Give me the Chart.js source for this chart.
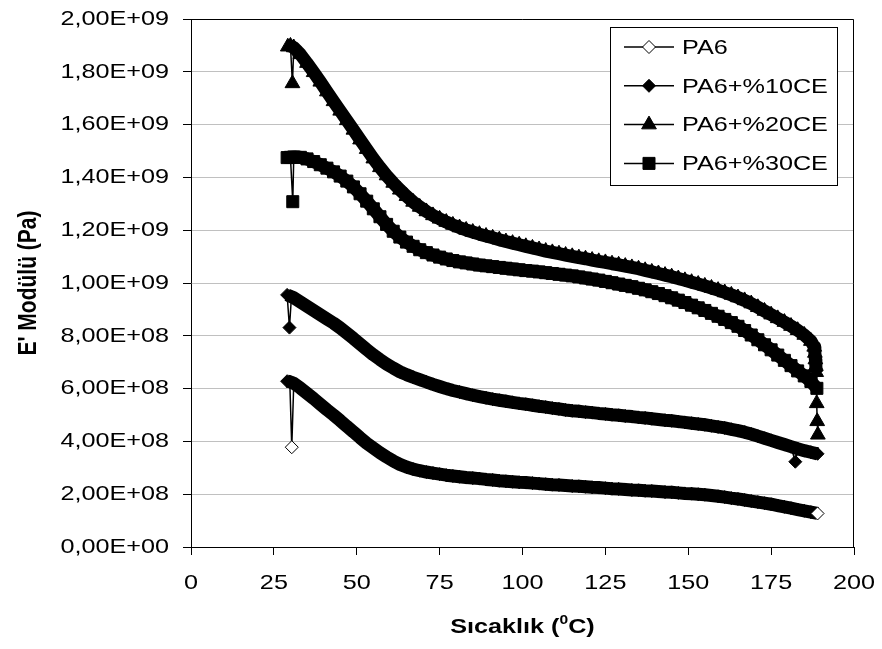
<!DOCTYPE html>
<html>
<head>
<meta charset="utf-8">
<script src="https://cdn.jsdelivr.net/npm/chart.js@4.4.1/dist/chart.umd.min.js"></script>
<style>
  html, body { margin: 0; padding: 0; background: #ffffff; }
  #wrap { width: 882px; height: 649px; }
</style>
</head>
<body>
<div id="wrap"><canvas id="c" width="882" height="649"></canvas></div>
<script>
// Storage modulus E' (in 10^8 Pa) against temperature (°C), DMA sweep.
const temps = [
  31, 33, 35, 37, 39, 41, 43, 45, 47, 49,
  51, 53, 55, 57, 59, 61, 63, 65, 67, 69,
  71, 73, 75, 77, 79, 81, 83, 85, 87, 89,
  91, 93, 95, 97, 99, 101, 103, 105, 107, 109,
  111, 113, 115, 117, 119, 121, 123, 125, 127, 129,
  131, 133, 135, 137, 139, 141, 143, 145, 147, 149,
  151, 153, 155, 157, 159, 161, 163, 165, 167, 169,
  171, 173, 175, 177, 179, 181, 183, 185, 187
];

const seriesNames = ['PA6', 'PA6+%10CE', 'PA6+%20CE', 'PA6+%30CE'];

const pa6 = [
  6.20, 6.02, 5.82, 5.62, 5.41, 5.20, 5.00, 4.79, 4.57, 4.36,
  4.14, 3.93, 3.75, 3.57, 3.41, 3.26, 3.13, 3.03, 2.95, 2.89,
  2.84, 2.80, 2.76, 2.72, 2.69, 2.66, 2.63, 2.61, 2.59, 2.56,
  2.54, 2.51, 2.49, 2.47, 2.45, 2.44, 2.42, 2.40, 2.38, 2.36,
  2.35, 2.33, 2.31, 2.30, 2.28, 2.26, 2.25, 2.23, 2.21, 2.20,
  2.18, 2.16, 2.15, 2.13, 2.12, 2.10, 2.08, 2.07, 2.05, 2.03,
  2.02, 2.00, 1.98, 1.95, 1.92, 1.89, 1.85, 1.82, 1.78, 1.74,
  1.70, 1.66, 1.62, 1.57, 1.52, 1.47, 1.42, 1.37, 1.32
];
const ce10 = [
  9.44, 9.28, 9.12, 8.96, 8.80, 8.64, 8.48, 8.30, 8.10, 7.90,
  7.69, 7.48, 7.28, 7.10, 6.93, 6.78, 6.64, 6.53, 6.43, 6.34,
  6.25, 6.16, 6.08, 6.00, 5.93, 5.87, 5.81, 5.75, 5.70, 5.65,
  5.60, 5.56, 5.52, 5.48, 5.44, 5.41, 5.37, 5.33, 5.30, 5.26,
  5.23, 5.19, 5.16, 5.14, 5.11, 5.09, 5.06, 5.04, 5.01, 4.99,
  4.96, 4.94, 4.91, 4.89, 4.86, 4.83, 4.80, 4.78, 4.75, 4.72,
  4.69, 4.66, 4.63, 4.59, 4.55, 4.51, 4.46, 4.41, 4.35, 4.28,
  4.20, 4.12, 4.04, 3.96, 3.88, 3.80, 3.72, 3.65, 3.59
];
const ce20 = [
  18.92, 18.66, 18.33, 17.98, 17.62, 17.25, 16.88, 16.52, 16.16, 15.80,
  15.43, 15.07, 14.71, 14.38, 14.07, 13.79, 13.53, 13.29, 13.07, 12.88,
  12.71, 12.56, 12.43, 12.31, 12.20, 12.10, 12.01, 11.93, 11.85, 11.78,
  11.71, 11.64, 11.57, 11.51, 11.45, 11.39, 11.33, 11.27, 11.21, 11.16,
  11.11, 11.06, 11.01, 10.96, 10.92, 10.87, 10.82, 10.78, 10.73, 10.69,
  10.64, 10.59, 10.54, 10.48, 10.42, 10.36, 10.30, 10.24, 10.17, 10.10,
  10.03, 9.96, 9.89, 9.81, 9.73, 9.64, 9.55, 9.45, 9.34, 9.22,
  9.08, 8.94, 8.80, 8.66, 8.52, 8.37, 8.21, 8.03, 7.80
];
const ce30 = [
  14.77, 14.76, 14.70, 14.60, 14.48, 14.35, 14.21, 14.05, 13.86, 13.64,
  13.38, 13.10, 12.81, 12.51, 12.22, 11.96, 11.74, 11.55, 11.39, 11.26,
  11.15, 11.06, 10.98, 10.91, 10.85, 10.80, 10.76, 10.72, 10.68, 10.65,
  10.62, 10.59, 10.56, 10.53, 10.50, 10.47, 10.45, 10.42, 10.39, 10.36,
  10.33, 10.30, 10.27, 10.23, 10.19, 10.15, 10.11, 10.06, 10.01, 9.96,
  9.91, 9.86, 9.80, 9.74, 9.67, 9.60, 9.52, 9.44, 9.35, 9.26,
  9.16, 9.06, 8.96, 8.85, 8.74, 8.62, 8.50, 8.36, 8.20, 8.03,
  7.85, 7.66, 7.47, 7.27, 7.07, 6.87, 6.67, 6.48, 6.27
];

// First readings, last readings and isolated off-trend readings: [°C, 10^8 Pa]
const pa6Head  = [[29.0, 6.28], [29.8, 6.26]];
const pa6Tail  = [[189.0, 1.27]];
const pa6Drop  = [[30.4, 3.78]];
const ce10Head = [[29.0, 9.55], [30.3, 9.48]];
const ce10Tail = [[189.0, 3.53]];
const ce10Drop = [[29.7, 8.31], [182.3, 3.23]];
const ce20Head = [[29.2, 18.95], [30.0, 18.98]];
const ce20Tail = [[188.0, 7.58], [188.2, 7.35], [188.35, 7.10], [188.5, 6.85], [188.6, 6.62]];
const ce20Drop = [[30.6, 17.56], [188.75, 5.44], [188.9, 4.76], [189.1, 4.25]];
const ce30Head = [[29.0, 14.75], [30.0, 14.76]];
const ce30Tail = [[188.8, 6.01]];
const ce30Drop = [[30.7, 13.08]];

const xTickValues = [0, 25, 50, 75, 100, 125, 150, 175, 200];
const yTickValues = [0, 2e8, 4e8, 6e8, 8e8, 1e9, 1.2e9, 1.4e9, 1.6e9, 1.8e9, 2e9];

const xTitle = ['Sıcaklık (', '0', 'C)'];
const yTitle = "E' Modülü (Pa)";

const UNIT = 1e8;
const FONT = "'Liberation Sans', Arial, sans-serif";
const SX = 1.2;   // horizontal text stretch

function toPoints(pairs) {
  return pairs.map(([t, e]) => ({ x: t, y: e * UNIT })).sort((a, b) => a.x - b.x);
}
function gridPairs(vals) { return temps.map((t, i) => [t, vals[i]]); }

const series = [
  { name: seriesNames[0], vals: pa6,  head: pa6Head,  tail: pa6Tail,  drop: pa6Drop,  style: 'rectRot',  radius: 6.5, open: true },
  { name: seriesNames[1], vals: ce10, head: ce10Head, tail: ce10Tail, drop: ce10Drop, style: 'rectRot',  radius: 6.5, open: false },
  { name: seriesNames[2], vals: ce20, head: ce20Head, tail: ce20Tail, drop: ce20Drop, style: 'triangle', radius: 8.5, open: false },
  { name: seriesNames[3], vals: ce30, head: ce30Head, tail: ce30Tail, drop: ce30Drop, style: 'rect',     radius: 8.5, open: false }
];

function sciLabel(v) {
  if (v === 0) return '0,00E+00';
  const exp = Math.floor(Math.log10(Math.abs(v)) + 1e-9);
  const mant = (v / Math.pow(10, exp)).toFixed(2).replace('.', ',');
  return mant + 'E' + (exp < 0 ? '-' : '+') + String(Math.abs(exp)).padStart(2, '0');
}

const datasets = [];
series.forEach((s) => {
  const bandPts = toPoints([...s.head, ...gridPairs(s.vals), ...s.tail]);
  const allPts = toPoints([...s.head, ...gridPairs(s.vals), ...s.tail, ...s.drop]);
  const dropX = new Set(s.drop.map(d => d[0]));
  // dense run of readings rendered as a solid trace
  datasets.push({
    label: s.name + ' trace',
    data: bandPts,
    borderColor: '#000',
    borderWidth: 13,
    borderJoinStyle: 'round',
    pointRadius: 0,
    tension: 0,
    order: 2
  });
  // every reading with its marker
  datasets.push({
    label: s.name,
    data: allPts,
    borderColor: '#000',
    borderWidth: 1.5,
    tension: 0,
    pointStyle: s.style,
    pointRadius: s.radius,
    pointBorderColor: '#000',
    pointBorderWidth: 1,
    pointBackgroundColor: s.open
      ? (ctx) => {
          const last = ctx.dataset.data.length - 1;
          return (ctx.dataIndex === last || (ctx.raw && dropX.has(ctx.raw.x))) ? '#ffffff' : '#000000';
        }
      : '#000000',
    order: 1
  });
});

function stretchedText(ctx, str, x, y, align, baseline) {
  ctx.save();
  ctx.translate(x, y);
  ctx.scale(SX, 1);
  ctx.textAlign = align;
  ctx.textBaseline = baseline;
  ctx.fillText(str, 0, 0);
  ctx.restore();
}

function markerPath(ctx, style, r, x, y) {
  ctx.beginPath();
  if (style === 'rectRot') {
    ctx.moveTo(x, y - r); ctx.lineTo(x + r, y); ctx.lineTo(x, y + r); ctx.lineTo(x - r, y);
  } else if (style === 'triangle') {
    const c = Math.cos(Math.PI / 6) * r;
    ctx.moveTo(x, y - r); ctx.lineTo(x + c, y + r / 2); ctx.lineTo(x - c, y + r / 2);
  } else {
    const h = Math.SQRT1_2 * r;
    ctx.rect(x - h, y - h, 2 * h, 2 * h);
  }
  ctx.closePath();
}

const framePlugin = {
  id: 'frame',
  beforeDatasetsDraw(chart) {
    const { ctx, chartArea: a } = chart;
    ctx.save();
    ctx.strokeStyle = '#000';
    ctx.lineWidth = 1;
    ctx.beginPath();
    ctx.moveTo(a.left, Math.round(a.top) + 0.5);
    ctx.lineTo(Math.round(a.right) - 0.5, Math.round(a.top) + 0.5);
    ctx.lineTo(Math.round(a.right) - 0.5, a.bottom);
    ctx.stroke();
    ctx.restore();
  }
};

const textPlugin = {
  id: 'texts',
  afterDraw(chart) {
    const { ctx, chartArea: a } = chart;
    const xs = chart.scales.x, ys = chart.scales.y;
    ctx.save();
    ctx.fillStyle = '#000';

    // tick labels
    ctx.font = '21px ' + FONT;
    ys.ticks.forEach((t) => {
      stretchedText(ctx, sciLabel(t.value), 169, ys.getPixelForValue(t.value), 'right', 'middle');
    });
    xs.ticks.forEach((t) => {
      stretchedText(ctx, String(t.value), xs.getPixelForValue(t.value), 589, 'center', 'alphabetic');
    });

    // y title
    ctx.save();
    ctx.font = 'bold 21px ' + FONT;
    ctx.translate(36, (a.top + a.bottom) / 2);
    ctx.scale(SX, 1);
    ctx.rotate(-Math.PI / 2);
    ctx.textAlign = 'center';
    ctx.textBaseline = 'alphabetic';
    ctx.fillText(yTitle, 0, 0);
    ctx.restore();

    // x title with superscript degree digit
    const big = 'bold 21px ' + FONT, small = 'bold 13px ' + FONT;
    ctx.font = big;
    const w1 = ctx.measureText(xTitle[0]).width;
    const w3 = ctx.measureText(xTitle[2]).width;
    ctx.font = small;
    const w2 = ctx.measureText(xTitle[1]).width;
    const total = (w1 + w2 + w3) * SX;
    let x0 = (a.left + a.right) / 2 - total / 2;
    const base = 633;
    ctx.font = big;
    stretchedText(ctx, xTitle[0], x0, base, 'left', 'alphabetic');
    x0 += w1 * SX;
    ctx.font = small;
    stretchedText(ctx, xTitle[1], x0, base - 9, 'left', 'alphabetic');
    x0 += w2 * SX;
    ctx.font = big;
    stretchedText(ctx, xTitle[2], x0, base, 'left', 'alphabetic');

    // legend
    const L = { x: 610.5, y: 27.5, w: 227, h: 158 };
    ctx.fillStyle = '#fff';
    ctx.fillRect(L.x, L.y, L.w, L.h);
    ctx.strokeStyle = '#000';
    ctx.lineWidth = 1;
    ctx.strokeRect(L.x, L.y, L.w, L.h);
    series.forEach((s, i) => {
      const y = L.y + 19.5 + i * 38.8;
      ctx.strokeStyle = '#000';
      ctx.lineWidth = 1.5;
      ctx.beginPath();
      ctx.moveTo(624, y); ctx.lineTo(674, y);
      ctx.stroke();
      markerPath(ctx, s.style, s.radius, 649, y);
      ctx.fillStyle = s.open ? '#fff' : '#000';
      ctx.fill();
      ctx.lineWidth = 1;
      ctx.stroke();
      ctx.fillStyle = '#000';
      ctx.font = '21px ' + FONT;
      stretchedText(ctx, s.name, 682, y + 1, 'left', 'middle');
    });
    ctx.restore();
  }
};

new Chart(document.getElementById('c'), {
  type: 'line',
  data: { datasets },
  options: {
    responsive: false,
    animation: false,
    devicePixelRatio: 1,
    layout: { padding: { left: 0, right: 28, top: 19, bottom: 0 } },
    plugins: { legend: { display: false }, tooltip: { enabled: false } },
    elements: { line: { borderCapStyle: 'butt' } },
    scales: {
      x: {
        type: 'linear', min: 0, max: 200,
        afterBuildTicks: (s) => { s.ticks = xTickValues.map(v => ({ value: v })); },
        afterFit: (s) => { s.height = 102; },
        ticks: { display: false },
        grid: { drawOnChartArea: false, drawTicks: true, tickLength: 8, tickColor: '#000' },
        border: { color: '#000', width: 1 }
      },
      y: {
        type: 'linear', min: 0, max: 2e9,
        afterBuildTicks: (s) => { s.ticks = yTickValues.map(v => ({ value: v })); },
        afterFit: (s) => { s.width = 191; },
        ticks: { display: false, callback: (v) => sciLabel(v) },
        grid: { color: '#c0c0c0', lineWidth: 1, drawTicks: true, tickLength: 8, tickColor: '#000' },
        border: { color: '#000', width: 1 }
      }
    }
  },
  plugins: [framePlugin, textPlugin]
});
</script>
</body>
</html>
